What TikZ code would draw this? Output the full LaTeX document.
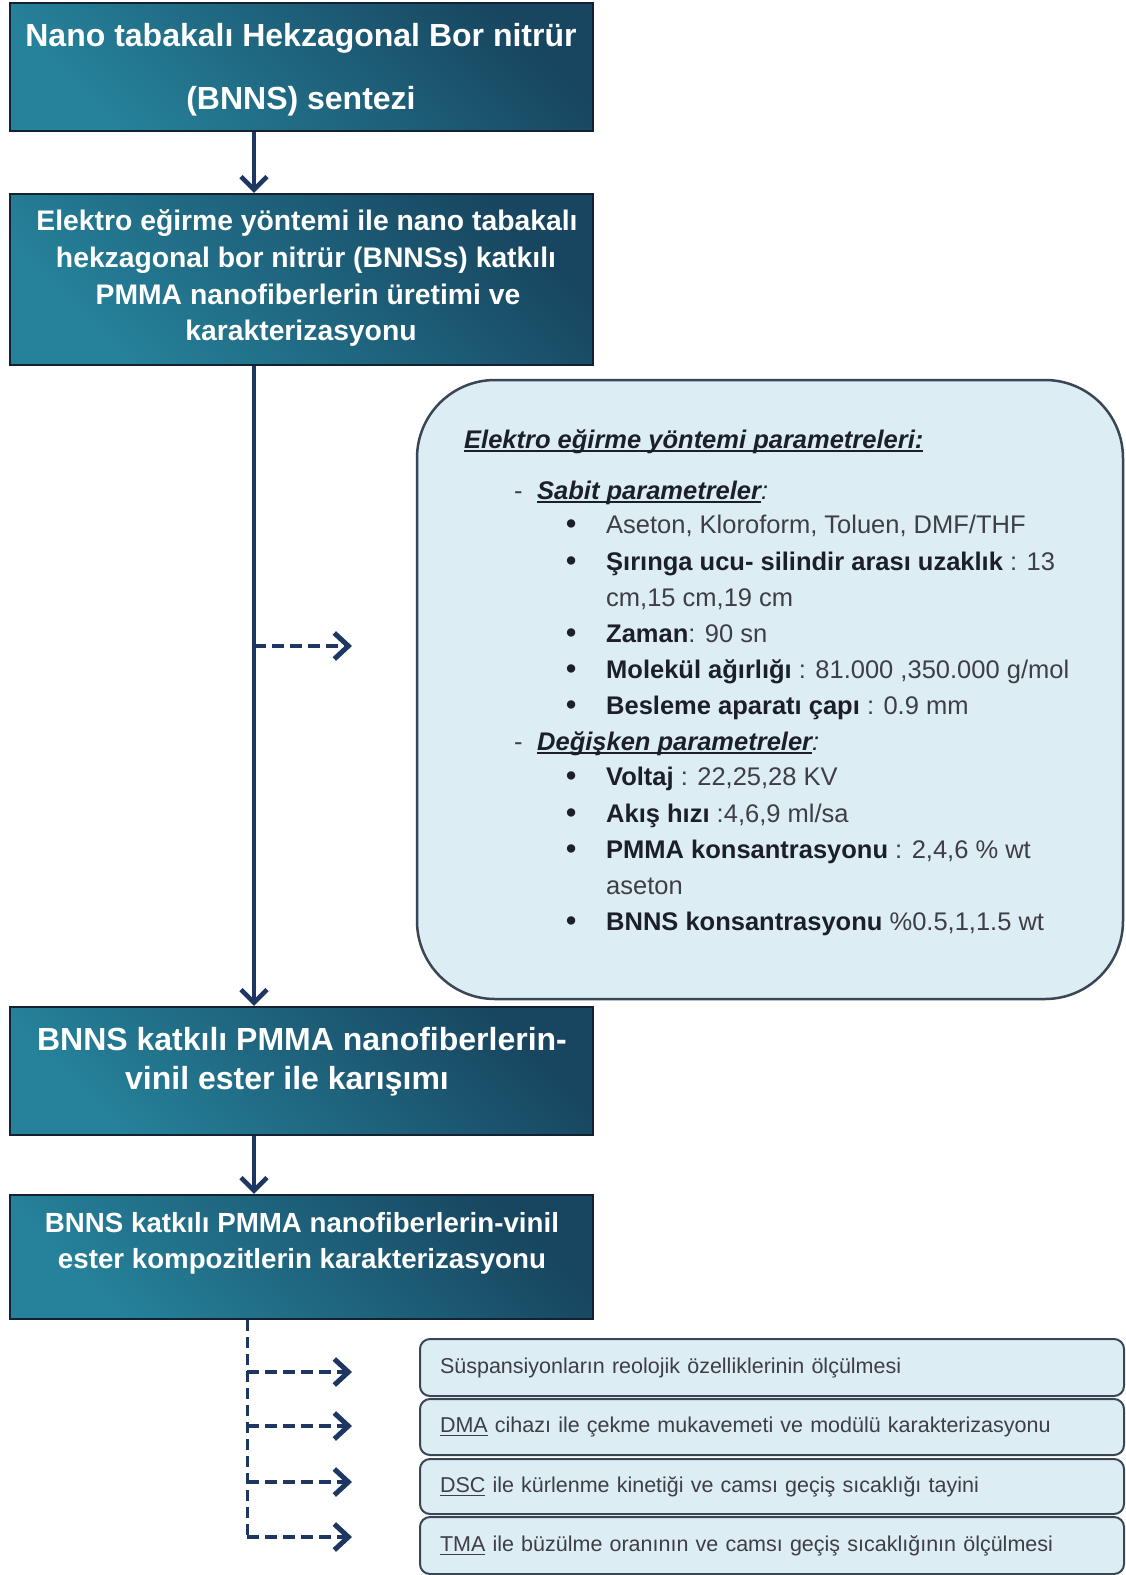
\documentclass[tikz,border=0pt]{standalone}
\usepackage{fontspec}
\setmainfont{Liberation Sans}
\usetikzlibrary{arrows.meta}
\definecolor{tealL}{RGB}{38,130,155}
\definecolor{tealD}{RGB}{24,70,96}
\definecolor{boxline}{RGB}{18,34,50}
\definecolor{navy}{RGB}{30,55,98}
\definecolor{paramfill}{RGB}{220,237,244}
\definecolor{paramline}{RGB}{58,70,86}
\definecolor{txtdark}{RGB}{28,30,40}
\definecolor{txtgray}{RGB}{62,62,68}
\newcommand\myul[2][1.6pt]{\leavevmode\setbox0\hbox{#2}\rlap{\rule[-3.5pt]{\wd0}{#1}}\box0}
\newcommand\bul{\makebox[40pt][l]{\color{txtdark}{\fontsize{29}{30}\selectfont\textbf{\textbullet}}}}
\newcommand\lab[1]{{\bfseries\color{txtdark}#1}}
\begin{document}
\begin{tikzpicture}[x=1pt,y=-1pt,
  bigbox/.style={draw=boxline, line width=2.5pt, left color=tealL, right color=tealD, shading angle=135, minimum width=583pt, inner sep=0pt},
  bt1/.style={text=white, anchor=base, font=\fontsize{32}{37}\selectfont\bfseries},
  bt2/.style={text=white, anchor=base, font=\fontsize{28.3}{34}\selectfont\bfseries},
  bt3/.style={text=white, anchor=base, font=\fontsize{32}{38}\selectfont\bfseries},
  bt4/.style={text=white, anchor=base, font=\fontsize{27.7}{33}\selectfont\bfseries},
  solidarrow/.style={draw=navy, line width=4pt, -{Straight Barb[length=13pt,width=26pt,line width=4.5pt]}},
  dasharrow/.style={draw=navy, line width=4pt, dash pattern=on 12pt off 6pt, -{Straight Barb[length=14pt,width=26pt,line width=5pt]}},
  dashline/.style={draw=navy, line width=3pt, dash pattern=on 11pt off 6pt},
  parambox/.style={draw=paramline, line width=2.5pt, fill=paramfill, rounded corners=78pt, minimum width=706pt, minimum height=619pt},
  ptxt/.style={anchor=base west, inner sep=0pt, text=txtgray, font=\fontsize{25.5}{30}\selectfont},
  smallbox/.style={draw=paramline, line width=2pt, fill=paramfill, rounded corners=10pt, text width=664pt, inner xsep=20pt, inner ysep=0pt, minimum height=56pt, align=left, text=txtgray, font=\fontsize{21.5}{26}\selectfont}
]
\useasboundingbox (0,0) rectangle (1126,1575);
\fill[white] (0,0) rectangle (1126,1575);

% columns
\coordinate (colx) at (254,0);
\coordinate (colxb) at (247,0);

% main boxes
\node[bigbox, minimum height=128pt] (b1) at (301.5,67) {};
\node[bt1] (t1a) at (301,46) {Nano tabakalı Hekzagonal Bor nitrür};
\node[bt1] (t1b) at (301,109) {(BNNS) sentezi};

\node[bigbox, minimum height=171pt] (b2) at (301.5,279.5) {};
\node[bt2] (t2a) at (307,230) {Elektro eğirme yöntemi ile nano tabakalı};
\node[bt2] (t2b) at (306,267) {hekzagonal bor nitrür (BNNSs) katkılı};
\node[bt2] (t2c) at (308,304) {PMMA nanofiberlerin üretimi ve};
\node[bt2] (t2d) at (301,340) {karakterizasyonu};

\node[bigbox, minimum height=128pt] (b3) at (301.5,1071) {};
\node[bt3] (t3a) at (302,1050) {BNNS katkılı PMMA nanofiberlerin-};
\node[bt3] (t3b) at (287,1089) {vinil ester ile karışımı};

\node[bigbox, minimum height=124pt] (b4) at (301.5,1257) {};
\node[bt4] (t4a) at (302,1232) {BNNS katkılı PMMA nanofiberlerin-vinil};
\node[bt4] (t4b) at (302,1268) {ester kompozitlerin karakterizasyonu};

% parameter box
\node[parambox] (pb) at (770,689.5) {};
\node[ptxt, text=txtdark] (h0) at (464,448) {\bfseries\itshape\myul{Elektro eğirme yöntemi parametreleri:}};
\node[ptxt] (s1) at (514,499) {\makebox[23pt][l]{-}{\color{txtdark}\bfseries\itshape\myul{Sabit parametreler}\mdseries:}};
\node[ptxt] (i1) at (566,533) {\bul Aseton, Kloroform, Toluen, DMF/THF};
\node[ptxt] (i2) at (566,570) {\bul\lab{Şırınga ucu- silindir arası uzaklık} : 13};
\node[ptxt] (i2b) at (606,606) {cm,15 cm,19 cm};
\node[ptxt] (i3) at (566,642) {\bul\lab{Zaman}: 90 sn};
\node[ptxt] (i4) at (566,678) {\bul\lab{Molekül ağırlığı} : 81.000 ,350.000 g/mol};
\node[ptxt] (i5) at (566,714) {\bul\lab{Besleme aparatı çapı} : 0.9 mm};
\node[ptxt] (s2) at (514,750) {\makebox[23pt][l]{-}{\color{txtdark}\bfseries\itshape\myul{Değişken parametreler}\mdseries:}};
\node[ptxt] (i6) at (566,785) {\bul\lab{Voltaj} : 22,25,28 KV};
\node[ptxt] (i7) at (566,822) {\bul\lab{Akış hızı} :4,6,9 ml/sa};
\node[ptxt] (i8) at (566,858) {\bul\lab{PMMA konsantrasyonu} : 2,4,6 \% wt};
\node[ptxt] (i8b) at (606,894) {aseton};
\node[ptxt] (i9) at (566,930) {\bul\lab{BNNS konsantrasyonu} \%0.5,1,1.5 wt};

% small boxes
\node[smallbox, minimum height=57pt] (sb1) at (772,1367.5) {Süspansiyonların reolojik özelliklerinin ölçülmesi};
\node[smallbox] (sb2) at (772,1427) {\myul[1.1pt]{DMA}\ cihazı ile çekme mukavemeti ve modülü karakterizasyonu};
\node[smallbox, minimum height=55pt] (sb3) at (772,1486.5) {\myul[1.1pt]{DSC}\ ile kürlenme kinetiği ve camsı geçiş sıcaklığı tayini};
\node[smallbox, minimum height=57pt] (sb4) at (772,1545.5) {\myul[1.1pt]{TMA}\ ile büzülme oranının ve camsı geçiş sıcaklığının ölçülmesi};

% connectors
\draw[solidarrow] (b1.south -| colx) -- (b2.north -| colx);
\draw[solidarrow] (b2.south -| colx) -- (b3.north -| colx);
\draw[solidarrow] (b3.south -| colx) -- (b4.north -| colx);

\coordinate (p0) at (254,646);
\coordinate (p0t) at (352,646);
\draw[dasharrow] (p0) -- (p0t);

\coordinate (qend) at (247,1537);
\draw[dashline] (b4.south -| colxb) -- (qend);
\coordinate (q1) at (247,1372);
\coordinate (q1t) at (352,1372);
\coordinate (q2) at (247,1426);
\coordinate (q2t) at (352,1426);
\coordinate (q3) at (247,1482);
\coordinate (q3t) at (352,1482);
\coordinate (q4t) at (352,1537);
\draw[dasharrow] (q1) -- (q1t);
\draw[dasharrow] (q2) -- (q2t);
\draw[dasharrow] (q3) -- (q3t);
\draw[dasharrow] (qend) -- (q4t);
\end{tikzpicture}
\end{document}
